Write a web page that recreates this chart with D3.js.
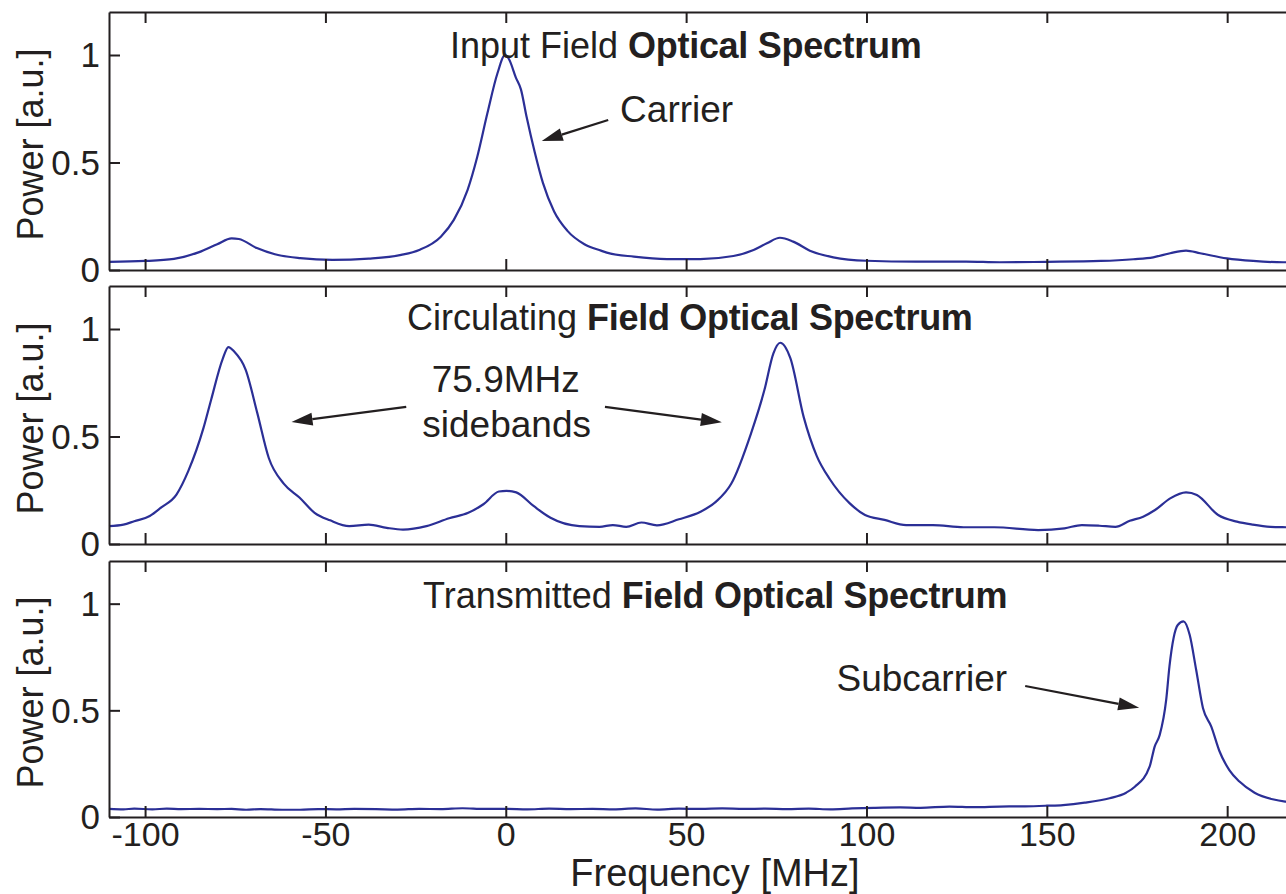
<!DOCTYPE html>
<html>
<head>
<meta charset="utf-8">
<script src="https://cdn.jsdelivr.net/npm/d3@7"></script>
<style>
  html, body { margin: 0; padding: 0; background: #ffffff; }
  svg { display: block; }
  text { font-family: "Liberation Sans", Arial, Helvetica, sans-serif; fill: #231f20; }
</style>
</head>
<body>
<svg id="chart" width="1286" height="894"></svg>
<script>
// ---------------- data ----------------
const xTicks = [-100, -50, 0, 50, 100, 150, 200];
const xTickLabels = ["-100", "-50", "0", "50", "100", "150", "200"];
const yTicks = [0, 0.5, 1];
const yTickLabels = ["0", "0.5", "1"];
const xLabel = "Frequency [MHz]";
const yLabel = "Power [a.u.]";

const titlesRegular = ["Input Field ", "Circulating ", "Transmitted "];
const titlesBold = ["Optical Spectrum", "Field Optical Spectrum", "Field Optical Spectrum"];

// Panel 1: input field
const inputFreq = [-110, -100, -92, -85, -80, -76, -74, -69, -64, -57, -48, -38, -29, -24, -18, -14.4, -10.6, -7.9, -5.1, -2.3, -0.2, 0.9, 2.8, 4.2, 5.8, 8, 10.3, 13.4, 17.1, 21.8, 26.4, 28, 35.5, 44.7, 53.9, 63.1, 68.7, 72.4, 76, 79.7, 84.3, 90.8, 100, 113.8, 127.6, 137, 150, 165, 174, 179.5, 184.2, 188.6, 192.5, 199.9, 207.2, 215.5, 220];
const inputPower = [0.038, 0.042, 0.052, 0.083, 0.12, 0.147, 0.144, 0.102, 0.073, 0.055, 0.047, 0.053, 0.07, 0.093, 0.155, 0.233, 0.372, 0.527, 0.729, 0.915, 1.0, 0.98, 0.895, 0.84, 0.71, 0.55, 0.405, 0.272, 0.182, 0.12, 0.09, 0.081, 0.062, 0.051, 0.051, 0.065, 0.093, 0.124, 0.15, 0.132, 0.09, 0.059, 0.043, 0.039, 0.039, 0.036, 0.038, 0.042, 0.05, 0.059, 0.078, 0.09, 0.078, 0.054, 0.042, 0.036, 0.036];

// Panel 2: circulating field
const circFreq = [-110, -106, -103, -98.7, -95.5, -91.3, -88, -83.8, -81.7, -78.5, -76.9, -75.3, -72.1, -68.9, -65.7, -61.5, -57.2, -53, -48.7, -43.4, -38, -33, -28.5, -22, -15.7, -10.4, -6.2, -1.9, 0.2, 2.9, 7.7, 12.4, 20.4, 26, 29.7, 33.4, 37.6, 41.9, 48, 54, 58.3, 62.5, 68, 71.7, 74.2, 76.1, 78.9, 82.6, 86.2, 89.9, 95.3, 99.6, 105, 111, 118.4, 126.9, 135.4, 147.6, 154.9, 159.7, 164.6, 169, 173, 176.7, 180, 184.2, 188.6, 191.6, 197.5, 202.7, 207.1, 212, 216.3, 220];
const circPower = [0.083, 0.09, 0.106, 0.13, 0.17, 0.23, 0.34, 0.54, 0.67, 0.86, 0.916, 0.895, 0.81, 0.61, 0.40, 0.28, 0.216, 0.145, 0.11, 0.083, 0.09, 0.075, 0.067, 0.083, 0.12, 0.145, 0.185, 0.244, 0.247, 0.24, 0.177, 0.122, 0.083, 0.08, 0.088, 0.08, 0.1, 0.087, 0.115, 0.15, 0.197, 0.28, 0.515, 0.716, 0.887, 0.936, 0.864, 0.59, 0.41, 0.30, 0.19, 0.135, 0.112, 0.088, 0.088, 0.078, 0.078, 0.065, 0.073, 0.088, 0.085, 0.08, 0.108, 0.127, 0.158, 0.212, 0.24, 0.228, 0.135, 0.104, 0.09, 0.08, 0.078, 0.077];

// Panel 3: transmitted field
const transFreq = [-110, -106, -103, -98, -94, -90, -85, -80, -76, -72, -68, -62, -57, -52, -47, -42, -36, -30, -24, -18, -12, -6, 0, 6, 12, 18, 24, 30, 36, 42, 48, 54, 60, 66, 72, 78, 84, 90, 96, 102, 109.3, 115, 123, 130, 137, 144, 150, 154.5, 160.5, 167.4, 172, 174.4, 178.5, 179.9, 181.3, 183.1, 184, 186.3, 187.9, 189.6, 191.4, 193.3, 195.6, 197.9, 200.6, 203.4, 207.6, 212.6, 216.1, 220];
const transPower = [0.038, 0.036, 0.039, 0.036, 0.039, 0.037, 0.038, 0.037, 0.038, 0.034, 0.037, 0.034, 0.034, 0.037, 0.036, 0.038, 0.037, 0.035, 0.038, 0.037, 0.041, 0.038, 0.038, 0.036, 0.039, 0.037, 0.038, 0.036, 0.04, 0.035, 0.039, 0.038, 0.04, 0.038, 0.039, 0.037, 0.039, 0.036, 0.04, 0.043, 0.045, 0.043, 0.049, 0.046, 0.049, 0.05, 0.053, 0.056, 0.067, 0.088, 0.114, 0.142, 0.236, 0.33, 0.385, 0.55, 0.706, 0.90, 0.917, 0.854, 0.69, 0.51, 0.424, 0.307, 0.22, 0.166, 0.114, 0.083, 0.072, 0.068];

// Annotation texts
const annoTexts = [["Carrier"], ["75.9MHz", "sidebands"], ["Subcarrier"]];

// ---------------- layout ----------------
const svg = d3.select("#chart");
const left = 109;
const pxPerMHz = 3.607;
const xDomain = [-110, 220];
const x = d3.scaleLinear().domain(xDomain).range([left, left + (xDomain[1] - xDomain[0]) * pxPerMHz]);
const panelTops = [12, 286, 561];
const panelBottoms = [270, 544, 817];
const ink = "#231f20";
const lineColor = "#2b2f96";

const series = [
  inputFreq.map((f, i) => [f, inputPower[i]]),
  circFreq.map((f, i) => [f, circPower[i]]),
  transFreq.map((f, i) => [f, transPower[i]])
];

const titleX = [450, 407, 423];
const titleY = [58, 330, 608];

for (let p = 0; p < 3; p++) {
  const y = d3.scaleLinear().domain([0, 1.2]).range([panelBottoms[p], panelTops[p]]);
  const g = svg.append("g");

  // data line
  const line = d3.line().x(d => x(d[0])).y(d => y(d[1])).curve(d3.curveMonotoneX);
  g.append("path").datum(series[p])
    .attr("d", line)
    .attr("fill", "none")
    .attr("stroke", lineColor)
    .attr("stroke-width", 2.2)
    .attr("stroke-linejoin", "round");

  // axes (inward ticks)
  const axB = d3.axisBottom(x).tickValues(xTicks).tickSize(-11).tickSizeOuter(0).tickPadding(5)
    .tickFormat((d, i) => xTickLabels[i]);
  const axT = d3.axisTop(x).tickValues(xTicks).tickSize(-11).tickSizeOuter(0).tickFormat("");
  const axL = d3.axisLeft(y).tickValues(yTicks).tickSize(-11).tickSizeOuter(0).tickPadding(9)
    .tickFormat((d, i) => yTickLabels[i]);

  const gb = g.append("g").attr("transform", `translate(0,${panelBottoms[p]})`).call(axB);
  if (p < 2) gb.selectAll(".tick text").remove();
  const gt = g.append("g").attr("transform", `translate(0,${panelTops[p]})`).call(axT);
  const gl = g.append("g").attr("transform", `translate(${left},0)`).call(axL);

  [gb, gt, gl].forEach(a => {
    a.select(".domain").attr("stroke", ink).attr("stroke-width", 2);
    a.selectAll(".tick line").attr("stroke", ink).attr("stroke-width", 2);
    a.selectAll(".tick text").attr("fill", ink).style("font-size", "35px")
      .style("font-family", '"Liberation Sans", Arial, sans-serif');
  });
  gb.selectAll(".tick text").style("font-size", "34px");
  gl.selectAll(".tick text").attr("dy", "0.34em");

  // y label
  const cy = (panelTops[p] + panelBottoms[p]) / 2 + 3.5;
  g.append("text")
    .attr("transform", `translate(43,${cy}) rotate(-90)`)
    .attr("text-anchor", "middle")
    .style("font-size", "36px")
    .text(yLabel);

  // title
  const t = g.append("text").attr("x", titleX[p]).attr("y", titleY[p]).style("font-size", "36px");
  t.append("tspan").text(titlesRegular[p]);
  t.append("tspan").attr("font-weight", "bold").attr("letter-spacing", "-0.3px").text(titlesBold[p]);
}

// x label
svg.append("text").attr("x", x(58)).attr("y", 886)
  .attr("text-anchor", "middle").style("font-size", "38px").text(xLabel);

// annotations (positions in data units)
const yP = p => d3.scaleLinear().domain([0, 1.2]).range([panelBottoms[p], panelTops[p]]);
function arrow(p, f0, v0, f1, v1) {
  const ys = yP(p);
  const x0 = x(f0), y0 = ys(v0), x1 = x(f1), y1 = ys(v1);
  const ang = Math.atan2(y1 - y0, x1 - x0);
  const hl = 21, hw = 6.5;
  const bx = x1 - hl * Math.cos(ang), by = y1 - hl * Math.sin(ang);
  svg.append("line").attr("x1", x0).attr("y1", y0).attr("x2", bx).attr("y2", by)
    .attr("stroke", ink).attr("stroke-width", 2.2);
  const px = -Math.sin(ang) * hw, py = Math.cos(ang) * hw;
  svg.append("path")
    .attr("d", `M${x1},${y1}L${bx + px},${by + py}L${bx - px},${by - py}Z`)
    .attr("fill", ink);
}
function label(p, f, v, txt, anchor) {
  const ys = yP(p);
  svg.append("text").attr("x", x(f)).attr("y", ys(v)).attr("text-anchor", anchor)
    .style("font-size", "37px").text(txt);
}
// Carrier
label(0, 31.7, 0.69, annoTexts[0][0], "start");
arrow(0, 28.4, 0.698, 9.98, 0.60);
// sidebands
label(1, 0, 0.708, annoTexts[1][0], "middle");
label(1, 0.25, 0.50, annoTexts[1][1], "middle");
arrow(1, -27.6, 0.638, -59.4, 0.568);
arrow(1, 27.5, 0.638, 59.9, 0.566);
// Subcarrier
label(2, 139, 0.591, annoTexts[2][0], "end");
arrow(2, 144, 0.614, 175.6, 0.512);
</script>
</body>
</html>
